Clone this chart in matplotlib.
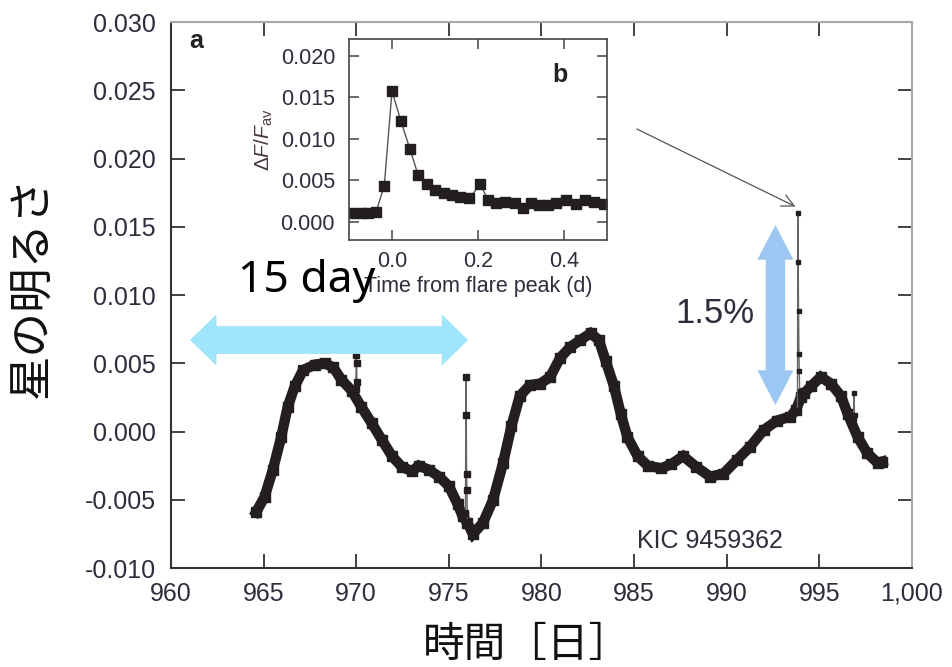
import matplotlib
matplotlib.use('Agg')
import matplotlib.pyplot as plt
from matplotlib.patches import FancyArrowPatch, ArrowStyle

plt.rcParams['font.family'] = ['Liberation Sans', 'DejaVu Sans']
plt.rcParams['mathtext.fontset'] = 'custom'
plt.rcParams['mathtext.rm'] = 'Liberation Sans'
plt.rcParams['mathtext.it'] = 'Liberation Sans:italic'

# light curve of KIC 9459362
main_t = [964.6, 965.05, 965.5, 965.95, 966.3, 966.68, 967.13, 967.77, 968.3, 968.76,
          969.2, 969.75, 970.28, 970.84, 971.38, 971.93, 972.47, 973.02, 973.38, 973.92,
          974.47, 975.0, 975.47, 975.74, 976.0, 976.3, 976.84, 977.39, 977.93, 978.38,
          978.83, 979.38, 979.93, 980.47, 981.01, 981.56, 982.1, 982.65, 983.1, 983.46,
          983.92, 984.28, 984.64, 985.19, 985.73, 986.46, 987.0, 987.65, 988.37, 989.1,
          989.82, 990.54, 991.27, 991.99, 992.72, 993.44, 993.75, 994.0, 994.18, 994.54,
          995.08, 995.63, 996.17, 996.53, 997.07, 997.6, 998.15, 998.4]
main_f = [-0.0059, -0.0048, -0.0028, -0.0004, 0.0018, 0.0033, 0.0045, 0.0049, 0.0050, 0.0047,
          0.0038, 0.0030, 0.0018, 0.0006, -0.0006, -0.0018, -0.0026, -0.0029, -0.0025, -0.0028,
          -0.0033, -0.0040, -0.0053, -0.0062, -0.0067, -0.0075, -0.0067, -0.0050, -0.0023, 0.0004,
          0.0026, 0.0034, 0.0035, 0.0040, 0.0054, 0.0062, 0.0067, 0.0072, 0.0067, 0.0052,
          0.0033, 0.0013, -0.0004, -0.0018, -0.0025, -0.0027, -0.0024, -0.0018, -0.0026, -0.0033,
          -0.0031, -0.0021, -0.0011, 0.0001, 0.0008, 0.0011, 0.0016, 0.0025, 0.0028, 0.0033,
          0.0040, 0.0035, 0.0026, 0.0013, -0.0004, -0.0016, -0.0023, -0.0022]

# flares in the main light curve
flare1_t = [969.98, 970.0, 970.02, 970.04]
flare1_f = [0.0031, 0.0056, 0.0050, 0.0036]
flare2_t = [975.90, 975.92, 975.94, 975.96, 975.98, 976.0]
flare2_f = [-0.0060, 0.0040, 0.0012, -0.0031, -0.0043, -0.0066]
flare3_t = [993.82, 993.84, 993.86, 993.88, 993.90, 993.92, 993.94]
flare3_f = [0.0016, 0.0160, 0.01245, 0.0088, 0.0057, 0.0044, 0.0030]
flare4_t = [996.86, 996.88, 996.90]
flare4_f = [0.0009, 0.0028, 0.0012]

# inset b: flare profile
ins_t = [-0.092, -0.072, -0.055, -0.037, -0.018, 0.0, 0.021, 0.042, 0.061, 0.082,
         0.101, 0.12, 0.139, 0.159, 0.18, 0.205, 0.224, 0.243, 0.262, 0.285,
         0.304, 0.323, 0.343, 0.362, 0.381, 0.404, 0.427, 0.45, 0.469, 0.492]
ins_f = [0.0010, 0.0010, 0.0011, 0.0012, 0.0043, 0.0157, 0.0121, 0.0087, 0.0056, 0.0045,
         0.0038, 0.0034, 0.0032, 0.0030, 0.0028, 0.0045, 0.0026, 0.0022, 0.0024, 0.0023,
         0.0017, 0.0023, 0.0020, 0.0020, 0.0023, 0.0026, 0.0021, 0.0026, 0.0024, 0.0021]

x_ticks = [960, 965, 970, 975, 980, 985, 990, 995, 1000]
x_labels = ['960', '965', '970', '975', '980', '985', '990', '995', '1,000']
y_ticks = [-0.010, -0.005, 0.000, 0.005, 0.010, 0.015, 0.020, 0.025, 0.030]
y_labels = ['-0.010', '-0.005', '0.000', '0.005', '0.010', '0.015', '0.020', '0.025', '0.030']
ins_xticks = [0.0, 0.2, 0.4]
ins_xlabels = ['0.0', '0.2', '0.4']
ins_yticks = [0.000, 0.005, 0.010, 0.015, 0.020]
ins_ylabels = ['0.000', '0.005', '0.010', '0.015', '0.020']

txt = '#2d2d3c'
curve = '#231f20'

fig = plt.figure(figsize=(9.53, 6.67), dpi=100)
ax = fig.add_axes([0.1794, 0.1484, 0.7775, 0.8186])

ax.plot(main_t, main_f, '-', color=curve, lw=7.5, marker='s', ms=7.5, solid_joinstyle='miter', zorder=3)
for ft, ff, ms in [(flare1_t, flare1_f, 4), (flare2_t, flare2_f, 5),
                   (flare3_t, flare3_f, 3.5), (flare4_t, flare4_f, 3.5)]:
    ax.plot(ft, ff, '-', color='#666666', lw=1.0, marker='s', ms=ms,
            mfc=curve, mec=curve, zorder=4)

ax.set_xlim(960, 1000)
ax.set_ylim(-0.010, 0.030)
ax.set_xticks(x_ticks)
ax.set_xticklabels(x_labels)
ax.set_yticks(y_ticks)
ax.set_yticklabels(y_labels)
ax.tick_params(direction='in', length=10, width=1.3, labelsize=18, labelcolor=txt,
               top=True, right=True, color='#333333')
ax.tick_params(axis='x', pad=10)
ax.tick_params(axis='y', pad=11)
for t in ax.xaxis.get_major_ticks() + ax.yaxis.get_major_ticks():
    t.tick2line.set_color('#a0a0a0')
for s in ['left', 'bottom']:
    ax.spines[s].set_color('#333333')
    ax.spines[s].set_linewidth(1.5)
for s in ['top', 'right']:
    ax.spines[s].set_color('#a8a8a8')
    ax.spines[s].set_linewidth(1.5)

ax.text(0.024, 0.952, 'a', transform=ax.transAxes, fontsize=18, fontweight='bold',
        color='#222222', va='baseline')
ax.text(985.15, -0.00853, 'KIC 9459362', fontsize=18, color=txt, va='baseline')

# 15 day arrow (two halves from the middle)
mid = (961.03 + 976.04) / 2
for end in [961.03, 976.04]:
    ax.add_patch(FancyArrowPatch((mid, 0.0067), (end, 0.0067),
                                 arrowstyle=ArrowStyle('simple', head_length=19, head_width=37, tail_width=20),
                                 mutation_scale=1, color='#9fe5fb', lw=0, shrinkA=0, shrinkB=0, zorder=5))

# 1.5 % arrow
vmid = (0.01513 + 0.00194) / 2
for end in [0.01513, 0.00194]:
    ax.add_patch(FancyArrowPatch((992.63, vmid), (992.63, end),
                                 arrowstyle=ArrowStyle('simple', head_length=25, head_width=26, tail_width=14),
                                 mutation_scale=1, color='#9cc7f3', lw=0, shrinkA=0, shrinkB=0, zorder=5))
ax.text(989.38, 0.00868, '1.5%', fontsize=25, color=txt, ha='center', va='center')

# pointer from inset to flare
ax.annotate('', xy=(993.71, 0.01648), xytext=(985.15, 0.02216),
            arrowprops=dict(arrowstyle='->', color='#555555', lw=0.9, mutation_scale=22,
                            shrinkA=0, shrinkB=0))

# inset b
ins = fig.add_axes([0.3662, 0.6402, 0.2707, 0.3013])
ins.plot(ins_t, ins_f, '-', color='#555555', lw=1.0, marker='s', ms=7, mfc=curve, mec=curve)
ins.set_xlim(-0.1, 0.5)
ins.set_ylim(-0.0022, 0.022)
ins.set_xticks(ins_xticks)
ins.set_xticklabels(ins_xlabels)
ins.set_yticks(ins_yticks)
ins.set_yticklabels(ins_ylabels)
ins.tick_params(direction='in', length=7, width=1.1, labelsize=15.5, labelcolor=txt,
                top=True, right=True, color='#444444')
ins.tick_params(axis='x', pad=8)
ins.tick_params(axis='y', pad=10)
for s in ins.spines.values():
    s.set_color('#444444')
    s.set_linewidth(1.2)
ins.set_xlabel('Time from flare peak (d)', fontsize=15.5, color=txt, labelpad=3)
ins.set_ylabel(r'$\Delta F/F_{\rm av}$', fontsize=15, color='#4a3a40', labelpad=4)
ins.text(0.79, 0.786, 'b', transform=ins.transAxes, fontsize=18, fontweight='bold',
         color='#222222', va='baseline')

fig.text(0.2497, 0.5622, '15 day', fontsize=32, family=['Noto Sans', 'DejaVu Sans'],
         color='black', va='baseline', zorder=10)
fig.text(0.034, 0.5705, '星の明るさ', fontsize=32, rotation=90, ha='center', va='center',
         family=['Noto Sans CJK JP', 'DejaVu Sans'], color='#111111')
fig.text(0.553, 0.033, '時間［日］', fontsize=30, ha='center', va='center',
         family=['Noto Sans CJK JP', 'DejaVu Sans'], color='#111111')

fig.savefig('out.png', dpi=100)
